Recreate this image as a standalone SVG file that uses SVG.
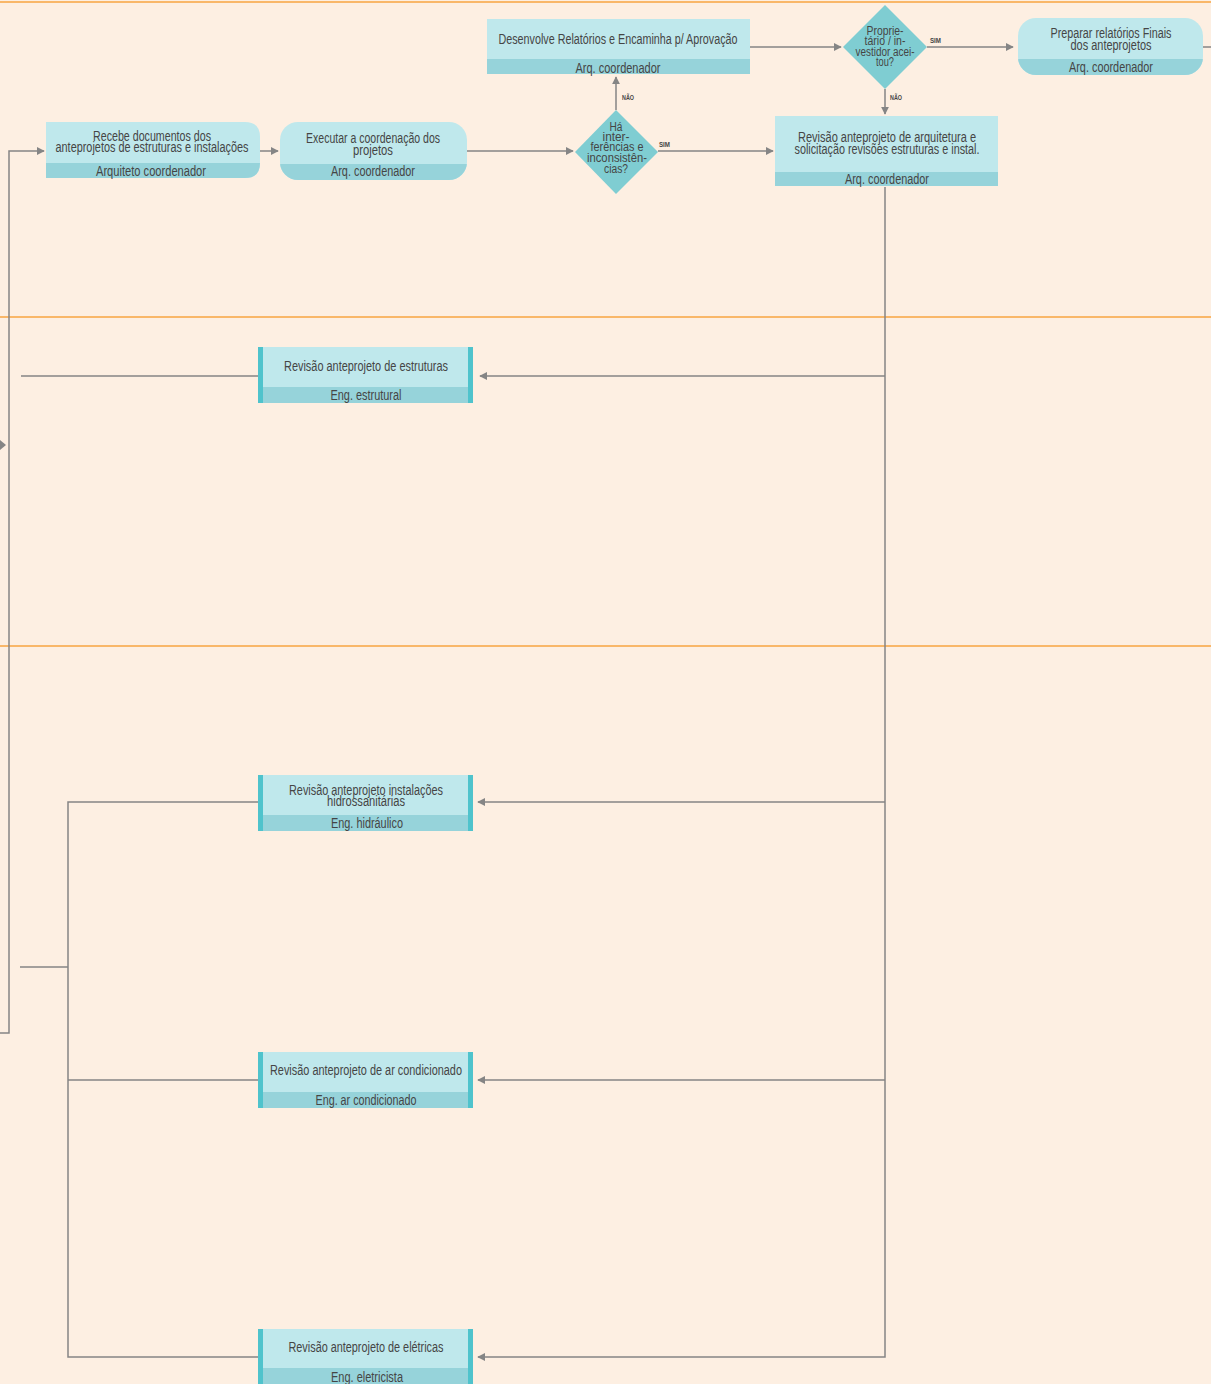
<svg xmlns="http://www.w3.org/2000/svg" width="1211" height="1384" viewBox="0 0 1211 1384">
<defs>
<marker id="ah" viewBox="0 0 10 10" refX="9" refY="5" markerWidth="8" markerHeight="8" markerUnits="userSpaceOnUse" orient="auto"><path d="M0,0 L10,5 L0,10 z" fill="#858585"/></marker>
<style>
.lane{stroke:#f7a540;stroke-width:1.5}
.c{fill:none;stroke:#858585;stroke-width:1.5}
.ca{fill:none;stroke:#858585;stroke-width:1.5;marker-end:url(#ah)}
.hd{fill:#bfe8ec}
.ft{fill:#96d3da}
.bar{fill:#4fc3cc}
.dm{fill:#7fcdd2}
text{font-family:"Liberation Sans",Arial,sans-serif;fill:#454545;text-anchor:middle;font-size:14px}
.d{font-size:12.5px}
.lb{font-size:8px;font-weight:bold;text-anchor:start}
</style>
<clipPath id="r1"><path d="M46,122 H245 Q260,122 260,137 V163 Q260,178 245,178 H46 Z"/></clipPath>
<clipPath id="r2"><rect x="280" y="122" width="187" height="58" rx="18"/></clipPath>
<clipPath id="r3"><rect x="1018" y="18" width="185" height="57" rx="18"/></clipPath>
</defs>
<rect width="1211" height="1384" fill="#fdefe2"/>
<g id="lanes">
<line class="lane" x1="0" y1="2" x2="1211" y2="2"/>
<line class="lane" x1="0" y1="317" x2="1211" y2="317"/>
<line class="lane" x1="0" y1="646" x2="1211" y2="646"/>
</g>
<g id="connectors">
<polyline class="ca" points="0,1033 9,1033 9,151 44,151"/>
<path d="M0,440 L6,445 L0,450 z" fill="#858585"/>
<line class="c" x1="21" y1="376" x2="258" y2="376"/>
<line class="c" x1="20" y1="967" x2="68" y2="967"/>
<polyline class="c" points="258,802 68,802 68,1357 258,1357"/>
<line class="c" x1="68" y1="1080" x2="258" y2="1080"/>
<line class="ca" x1="260" y1="151" x2="278" y2="151"/>
<line class="ca" x1="467" y1="151" x2="573" y2="151"/>
<line class="ca" x1="658" y1="151" x2="773" y2="151"/>
<line class="ca" x1="616" y1="110" x2="616" y2="77"/>
<line class="ca" x1="750" y1="47" x2="841" y2="47"/>
<line class="ca" x1="927" y1="47" x2="1013" y2="47"/>
<line class="ca" x1="885" y1="89" x2="885" y2="114"/>
<line class="c" x1="1203" y1="47" x2="1211" y2="47"/>
<polyline class="ca" points="885,187 885,1357 478,1357"/>
<line class="ca" x1="885" y1="376" x2="480" y2="376"/>
<line class="ca" x1="885" y1="802" x2="478" y2="802"/>
<line class="ca" x1="885" y1="1080" x2="478" y2="1080"/>
<text class="lb" x="659" y="147" textLength="11" lengthAdjust="spacingAndGlyphs">SIM</text>
<text class="lb" x="622" y="100" textLength="12" lengthAdjust="spacingAndGlyphs">NÃO</text>
<text class="lb" x="930" y="43" textLength="11" lengthAdjust="spacingAndGlyphs">SIM</text>
<text class="lb" x="890" y="100" textLength="12" lengthAdjust="spacingAndGlyphs">NÃO</text>
</g>
<g id="n-recebe">
<g clip-path="url(#r1)"><rect class="hd" x="46" y="122" width="214" height="56"/><rect class="ft" x="46" y="163" width="214" height="15"/></g>
<text x="152" y="141" textLength="118" lengthAdjust="spacingAndGlyphs">Recebe documentos dos</text>
<text x="152" y="152" textLength="193" lengthAdjust="spacingAndGlyphs">anteprojetos de estruturas e instalações</text>
<text x="151" y="176" textLength="110" lengthAdjust="spacingAndGlyphs">Arquiteto coordenador</text>
</g>
<g id="n-executar">
<g clip-path="url(#r2)"><rect class="hd" x="280" y="122" width="187" height="58"/><rect class="ft" x="280" y="164" width="187" height="16"/></g>
<text x="373" y="143" textLength="134" lengthAdjust="spacingAndGlyphs">Executar a coordenação dos</text>
<text x="373" y="155" textLength="40" lengthAdjust="spacingAndGlyphs">projetos</text>
<text x="373" y="176" textLength="84" lengthAdjust="spacingAndGlyphs">Arq. coordenador</text>
</g>
<g id="n-ha">
<polygon class="dm" points="616,110 658,152 616,194 575,152"/>
<text class="d" x="616" y="131" textLength="13" lengthAdjust="spacingAndGlyphs">Há</text>
<text class="d" x="616" y="141" textLength="27" lengthAdjust="spacingAndGlyphs">inter-</text>
<text class="d" x="617" y="151" textLength="53" lengthAdjust="spacingAndGlyphs">ferências e</text>
<text class="d" x="617" y="162" textLength="60" lengthAdjust="spacingAndGlyphs">inconsistên-</text>
<text class="d" x="616" y="173" textLength="24" lengthAdjust="spacingAndGlyphs">cias?</text>
</g>
<g id="n-desenvolve">
<rect class="hd" x="487" y="19" width="263" height="55"/>
<rect class="ft" x="487" y="59" width="263" height="15"/>
<text x="618" y="44" textLength="239" lengthAdjust="spacingAndGlyphs">Desenvolve Relatórios e Encaminha p/ Aprovação</text>
<text x="618" y="73" textLength="85" lengthAdjust="spacingAndGlyphs">Arq. coordenador</text>
</g>
<g id="n-proprietario">
<polygon class="dm" points="885,5 927,47 885,89 843,47"/>
<text class="d" x="885" y="35" textLength="37" lengthAdjust="spacingAndGlyphs">Proprie-</text>
<text class="d" x="885" y="45" textLength="41" lengthAdjust="spacingAndGlyphs">tário / in-</text>
<text class="d" x="885" y="56" textLength="59" lengthAdjust="spacingAndGlyphs">vestidor acei-</text>
<text class="d" x="885" y="66" textLength="18" lengthAdjust="spacingAndGlyphs">tou?</text>
</g>
<g id="n-preparar">
<g clip-path="url(#r3)"><rect class="hd" x="1018" y="18" width="185" height="57"/><rect class="ft" x="1018" y="59" width="185" height="16"/></g>
<text x="1111" y="38" textLength="121" lengthAdjust="spacingAndGlyphs">Preparar relatórios Finais</text>
<text x="1111" y="50" textLength="81" lengthAdjust="spacingAndGlyphs">dos anteprojetos</text>
<text x="1111" y="72" textLength="84" lengthAdjust="spacingAndGlyphs">Arq. coordenador</text>
</g>
<g id="n-revarq">
<rect class="hd" x="775" y="116" width="223" height="70"/>
<rect class="ft" x="775" y="172" width="223" height="14"/>
<text x="887" y="142" textLength="178" lengthAdjust="spacingAndGlyphs">Revisão anteprojeto de arquitetura e</text>
<text x="887" y="154" textLength="185" lengthAdjust="spacingAndGlyphs">solicitação revisões estruturas e instal.</text>
<text x="887" y="184" textLength="84" lengthAdjust="spacingAndGlyphs">Arq. coordenador</text>
</g>
<g id="n-estruturas">
<rect class="hd" x="258" y="347" width="215" height="56"/>
<rect class="ft" x="258" y="387" width="215" height="16"/>
<rect class="bar" x="258" y="347" width="5" height="56"/>
<rect class="bar" x="468" y="347" width="5" height="56"/>
<text x="366" y="371" textLength="164" lengthAdjust="spacingAndGlyphs">Revisão anteprojeto de estruturas</text>
<text x="366" y="400" textLength="71" lengthAdjust="spacingAndGlyphs">Eng. estrutural</text>
</g>
<g id="n-hidro">
<rect class="hd" x="258" y="775" width="215" height="56"/>
<rect class="ft" x="258" y="815" width="215" height="16"/>
<rect class="bar" x="258" y="775" width="5" height="56"/>
<rect class="bar" x="468" y="775" width="5" height="56"/>
<text x="366" y="795" textLength="154" lengthAdjust="spacingAndGlyphs">Revisão anteprojeto instalações</text>
<text x="366" y="806" textLength="78" lengthAdjust="spacingAndGlyphs">hidrossanitárias</text>
<text x="367" y="828" textLength="72" lengthAdjust="spacingAndGlyphs">Eng. hidráulico</text>
</g>
<g id="n-ar">
<rect class="hd" x="258" y="1052" width="215" height="56"/>
<rect class="ft" x="258" y="1092" width="215" height="16"/>
<rect class="bar" x="258" y="1052" width="5" height="56"/>
<rect class="bar" x="468" y="1052" width="5" height="56"/>
<text x="366" y="1075" textLength="192" lengthAdjust="spacingAndGlyphs">Revisão anteprojeto de ar condicionado</text>
<text x="366" y="1105" textLength="101" lengthAdjust="spacingAndGlyphs">Eng. ar condicionado</text>
</g>
<g id="n-eletricas">
<rect class="hd" x="258" y="1329" width="215" height="56"/>
<rect class="ft" x="258" y="1368" width="215" height="17"/>
<rect class="bar" x="258" y="1329" width="5" height="56"/>
<rect class="bar" x="468" y="1329" width="5" height="56"/>
<text x="366" y="1352" textLength="155" lengthAdjust="spacingAndGlyphs">Revisão anteprojeto de elétricas</text>
<text x="367" y="1382" textLength="72" lengthAdjust="spacingAndGlyphs">Eng. eletricista</text>
</g>
</svg>
